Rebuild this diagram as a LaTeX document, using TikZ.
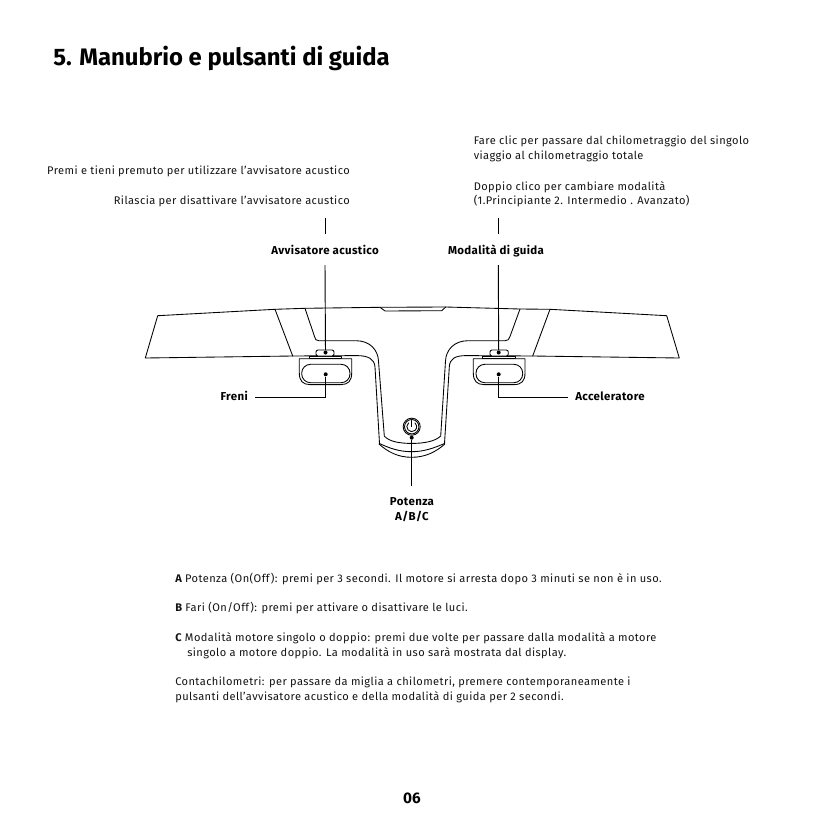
\documentclass[tikz,border=0pt]{standalone}
\usepackage{fontspec}
\setmainfont{Fira Sans}[LetterSpace=3.85]
\newfontfamily\labelf{Fira Sans}[LetterSpace=3.3,BoldFont={Fira Sans Bold}]
\newfontfamily\titlef{Fira Sans}[BoldFont={Fira Sans Bold}]
\tikzset{
  px/.style={x=0.75pt,y=-0.75pt},
  body/.style={inner sep=0pt,font=\fontsize{8.3}{9}\selectfont,text=black!92},
  lab/.style={inner sep=0pt,font=\labelf\bfseries\fontsize{8.6}{9}\selectfont},
  ttl/.style={inner sep=0pt,font=\titlef\bfseries\fontsize{17.9}{20}\selectfont},
  outl/.style={line width=0.65pt,line join=round,line cap=round},
  conn/.style={line width=0.7pt},
  tickdot/.style={circle,fill=black,inner sep=0pt,minimum size=3pt},
}
\begin{document}
\begin{tikzpicture}[px]
\useasboundingbox (0,0) rectangle (825,825);
\fill[white] (0,0) rectangle (825,825);
% title
\node[ttl,anchor=base west] (title) at (53,65) {5. Manubrio e pulsanti di guida};
% top texts
\node[body,anchor=base east] (t1) at (350,174) {Premi e tieni premuto per utilizzare l'avvisatore acustico};
\node[body,anchor=base east] (t2) at (350,204) {Rilascia per disattivare l'avvisatore acustico};
\node[body,anchor=base west] (t3) at (473.5,144) {Fare clic per passare dal chilometraggio del singolo};
\node[body,anchor=base west] (t4) at (473.5,159.5) {viaggio al chilometraggio totale};
\node[body,anchor=base west] (t5) at (473.5,190) {Doppio clico per cambiare modalità};
\node[body,anchor=base west] (t6) at (473.5,204.5) {(1.Principiante 2. Intermedio . Avanzato)};
% labels
\node[lab,anchor=base] (lavv) at (325,254) {Avvisatore acustico};
\node[lab,anchor=base] (lmod) at (496,254) {Modalità di guida};
\node[lab,anchor=base east] (lfre) at (248,400) {Freni};
\node[lab,anchor=base west] (lacc) at (575,400) {Acceleratore};
\node[lab,anchor=base] (lpot) at (412,505) {Potenza};
\node[lab,anchor=base] (labc) at (412,520) {A/B/C};
% handlebar outline
\draw[outl] (145.3,358) -- (157.7,315.7) -- (275,309.3) -- (305,308.3) -- (380,307.3) -- (445.7,307) -- (520,309) -- (550,309.3) -- (666.7,315.7) -- (679.3,358) -- (532.7,356) -- (466,355.6)
  .. controls (455,355.6) and (449.5,359) .. (449.3,367) -- (444.5,443.5)
  .. controls (434,448) and (424,451.7) .. (411.7,451.7)
  .. controls (399,451.7) and (389,448) .. (379.5,443.5)
  -- (375,367) .. controls (374.5,359) and (368,355.6) .. (357,355.6) -- (292.7,356) -- cycle;
\draw[outl] (380,307.3) -- (385,311) -- (441.7,310.7) -- (445.7,307);
\draw[outl] (275,309.3) -- (292.7,356);
\draw[outl] (550,309.3) -- (532.7,356);
% inner yoke
\draw[outl] (305,308.3) -- (314.5,336.5) .. controls (315.3,339.5) and (316,340.7) .. (319,340.7) -- (356,340.7)
  .. controls (370,340.7) and (378,350) .. (378.5,361) -- (384.3,436)
  .. controls (389,441.5) and (399,443.4) .. (411.7,443.4)
  .. controls (424,443.4) and (435,441.5) .. (440.7,436) -- (445.5,361)
  .. controls (446,350) and (454,340.7) .. (468,340.7) -- (505,340.7)
  .. controls (508,340.7) and (509,339.5) .. (510,336.5) -- (520,309);
% lower bowl
\draw[outl] (379,444) .. controls (388,452) and (398,457.3) .. (411.7,457.3)
  .. controls (425,457.3) and (436,452) .. (444.8,444);
% left button
\draw[outl,fill=white] (299.3,358.7) -- (351.7,358.7) -- (351.7,373) .. controls (351.7,381) and (348,384.6) .. (341,384.6)
  -- (310,384.6) .. controls (303,384.6) and (299.3,381) .. (299.3,373) -- cycle;
\draw[outl,rounded corners=6.6pt] (301.7,364.3) rectangle (350,382.7);
\draw[outl,fill=white] (309.3,358.5) rectangle (341.7,356);
\draw[outl,fill=white,rounded corners=1.5pt] (316,350) rectangle (334,356);
% right button
\draw[outl,fill=white] (473.3,358.7) -- (525,358.7) -- (525,373) .. controls (525,381) and (521.5,384.6) .. (514,384.6)
  -- (484,384.6) .. controls (477,384.6) and (473.3,381) .. (473.3,373) -- cycle;
\draw[outl,rounded corners=6.6pt] (476,364.3) rectangle (522.7,382.7);
\draw[outl,fill=white] (482.7,358.5) rectangle (515.7,356);
\draw[outl,fill=white,rounded corners=1.5pt] (490,350) rectangle (508.3,356);
% power button
\draw[outl] (411.7,426.7) circle[radius=6.4pt];
\draw[outl] (411.7,426.7) circle[radius=5.4pt];
\draw[outl] (408.6,422.9) arc[start angle=130,end angle=410,radius=3.7pt];
\draw[outl] (411.7,420.5) -- (411.7,426.7);
% connectors
\coordinate (s1a) at (325,218);
\coordinate (s1b) at (325,234);
\coordinate (s2a) at (498.3,218);
\coordinate (s2b) at (498.3,234);
\coordinate (c1) at (325,265);
\coordinate (c2) at (498.3,265);
\node[tickdot] (dh) at (325.5,352.5) {};
\node[tickdot] (dm) at (498.7,352.5) {};
\node[tickdot] (df) at (325.7,374.3) {};
\node[tickdot] (da) at (498.7,374.3) {};
\node[tickdot] (dp) at (411.7,437.7) {};
\coordinate (ef) at (255,397.5);
\coordinate (ea) at (568,397.5);
\coordinate (ep) at (411.7,486);
\draw[conn] (s1a) -- (s1b);
\draw[conn] (s2a) -- (s2b);
\draw[conn] (c1) -- (dh);
\draw[conn] (c2) -- (dm);
\draw[conn] (df) |- (ef);
\draw[conn] (da) |- (ea);
\draw[conn] (dp) -- (ep);
% body text
\node[body,anchor=base west] (b1) at (175,582) {{\labelf\bfseries A} Potenza (On(Off): premi per 3 secondi. Il motore si arresta dopo 3 minuti se non è in uso.};
\node[body,anchor=base west] (b2) at (175,611) {{\labelf\bfseries B} Fari (On/Off): premi per attivare o disattivare le luci.};
\node[body,anchor=base west] (b3) at (175,641) {{\labelf\bfseries C} Modalità motore singolo o doppio: premi due volte per passare dalla modalità a motore};
\node[body,anchor=base west] (b4) at (187,656) {singolo a motore doppio. La modalità in uso sarà mostrata dal display.};
\node[body,anchor=base west] (b5) at (175,685) {Contachilometri: per passare da miglia a chilometri, premere contemporaneamente i};
\node[body,anchor=base west] (b6) at (175,700) {pulsanti dell'avvisatore acustico e della modalità di guida per 2 secondi.};
\node[lab,anchor=base,font=\titlef\bfseries\fontsize{11.5}{12}\selectfont] (pg) at (412,803) {06};
\end{tikzpicture}
\end{document}
